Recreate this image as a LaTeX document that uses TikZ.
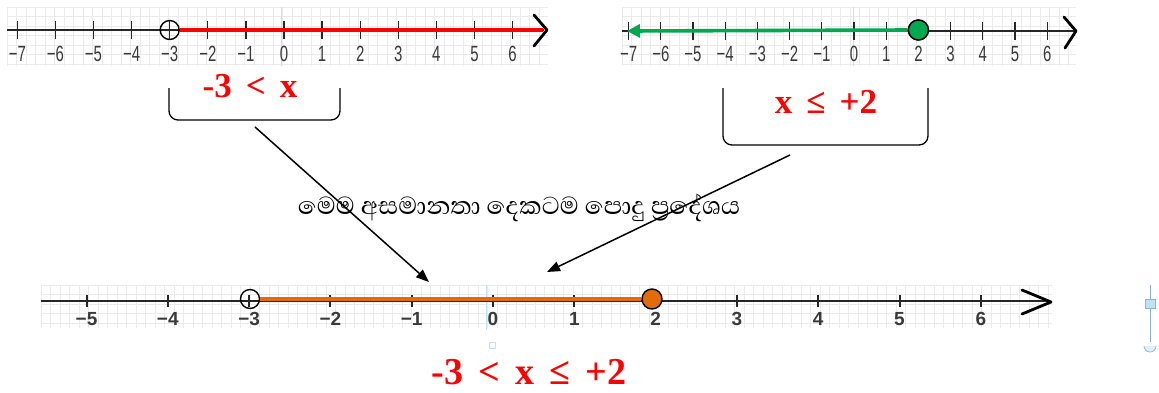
\documentclass[tikz,border=0pt]{standalone}
\usepackage{fontspec}
\setmainfont{Liberation Serif}
\newfontfamily\sinfont[Script=Sinhala]{Abhaya Libre}
\newfontfamily\lsans{Liberation Sans}
\usetikzlibrary{arrows.meta}
\definecolor{myred}{HTML}{FF0000}
\definecolor{mygreen}{HTML}{00A84F}
\definecolor{myorange}{HTML}{E36C0A}
\definecolor{gridc}{HTML}{EBEBEB}
\definecolor{zeroc}{HTML}{BFE3F2}
\definecolor{labc}{HTML}{3A3A3A}
\definecolor{handc}{HTML}{8EAFCF}
\newcommand\gapw{\hspace{0.4em}}
\tikzset{
  axisline/.style={line width=1.3pt, black!85},
  tickmark/.style={line width=1.3pt, black!85},
  btick/.style={line width=2pt, black!85},
  chev/.style={line width=2.8pt, line cap=round, line join=round},
  toplab/.style={font=\lsans\fontsize{22}{22}\selectfont, text=labc, xscale=0.68, inner sep=0pt},
  botlab/.style={font=\lsans\bfseries\fontsize{19}{19}\selectfont, text=labc, inner sep=0pt},
  redtxt/.style={font=\bfseries\fontsize{35}{35}\selectfont, text=myred, inner sep=0pt, anchor=base},
  brack/.style={line width=1.3pt, rounded corners=9pt},
  conn/.style={line width=1.5pt, -{Triangle[length=13pt,width=10pt]}},
  opendot/.style={circle, draw=black, line width=1.4pt, minimum size=19pt, inner sep=0pt},
  fulldot/.style={circle, draw=black, line width=1.4pt, minimum size=20pt, inner sep=0pt},
}
\begin{document}
\begin{tikzpicture}[x=1pt,y=-1pt]
\useasboundingbox (0,0) rectangle (1159,392);

% ---------- grids ----------
\foreach \x in {7,16.5,...,548} \draw[gridc, line width=0.5pt] (\x,7) -- (\x,66);
\foreach \y in {7,16.5,...,66} \draw[gridc, line width=0.5pt] (7,\y) -- (548,\y);
\foreach \x in {622,631.5,...,1076} \draw[gridc, line width=0.5pt] (\x,7) -- (\x,66);
\foreach \y in {7,16.5,...,66} \draw[gridc, line width=0.5pt] (622,\y) -- (1076,\y);
\foreach \x in {41,50.5,...,1052} \draw[gridc, line width=0.5pt] (\x,285) -- (\x,328);
\foreach \y in {285,294.5,...,328} \draw[gridc, line width=0.5pt] (41,\y) -- (1052,\y);
\draw[zeroc, line width=0.8pt] (281,7) -- (281,66);
\draw[zeroc, line width=0.8pt] (853,7) -- (853,66);
\draw[zeroc, line width=1pt] (486,285) -- (486,330);
\draw[zeroc, line width=0.8pt] (489,342) rectangle (495,348);

% ---------- top-left number line ----------
\draw[axisline] (7,30) -- (544,30);
\foreach \i in {-7,...,6} {
  \draw[tickmark] ({284+38.1*\i},21) -- ({284+38.1*\i},39);
  \node[toplab] (tl\i) at ({284+38.1*\i},54) {\ifnum\i<0 −\number-\i\else\i\fi};
}
\node[opendot] (oc1) at (169.7,30) {};
\draw[myred, line width=3.6pt] (oc1.east) -- (543,30);
\draw[chev] (534,15) -- (547,30) -- (534,46);

% ---------- top-right number line ----------
\draw[axisline] (622,31) -- (1074,31);
\foreach \i in {-7,...,6} {
  \draw[tickmark] ({854+32.2*\i},22) -- ({854+32.2*\i},40);
  \node[toplab] (tr\i) at ({854+32.2*\i},54) {\ifnum\i<0 −\number-\i\else\i\fi};
}
\coordinate (gtip) at (627,31);
\node[fulldot, fill=mygreen] (gd) at (918.4,30) {};
\draw[mygreen, line width=3.6pt, -{Triangle[length=13pt,width=13pt]}] (gd.west) -- (gtip);
\node[fulldot, fill=mygreen] at (918.4,30) {};
\draw[chev] (1064,17) -- (1076,31) -- (1065,48);

% ---------- bottom number line ----------
\draw[axisline] (41,301) -- (1050,301);
\foreach \i in {-5,...,6} {
  \draw[btick] ({493+81.3*\i},295) -- ({493+81.3*\i},307);
  \node[botlab] (bl\i) at ({493+81.3*\i},319) {\ifnum\i<0 −\number-\i\else\i\fi};
}
\node[opendot] (oc2) at (250,299) {};
\node[fulldot, fill=myorange] (od) at (652,299) {};
\draw[myorange, line width=3.6pt] (oc2.east) -- (od.west);
\draw[chev] (1022,290) -- (1051,302) -- (1022,314);

% ---------- labels and brackets ----------
\node[redtxt] (t1) at (250,97) {-3\gapw<\gapw x};
\draw[brack] (169,88) -- (169,120) -- (340,120) -- (340,88);
\node[redtxt] (t2) at (826,113) {x\gapw≤\gapw+2};
\draw[brack] (723,88) -- (723,145) -- (928,145) -- (928,88);
\node[redtxt, font=\bfseries\fontsize{38}{38}\selectfont] (t3) at (529,384)
  {-3\gapw<\gapw x\gapw≤\gapw+2};

\node[font=\sinfont\fontsize{31.5}{31.5}\selectfont, inner sep=0pt] (sin) at (519,208)
  {මෙම අසමානතා දෙකටම පොදු ප්^^^^200dරදේශය};

% ---------- connectors ----------
\coordinate (a1s) at (255,127);
\coordinate (a1e) at (429,282);
\coordinate (a2s) at (790,155);
\coordinate (a2e) at (547,272);
\draw[conn] (a1s) -- (a1e);
\draw[conn] (a2s) -- (a2e);

% ---------- selection handle artefact ----------
\draw[handc, line width=0.9pt] (1150,285) -- (1150,342);
\draw[handc, fill=zeroc, line width=0.7pt] (1145,299) rectangle (1155,308);
\draw[handc, fill=zeroc!50, line width=0.7pt] (1144,346) arc[start angle=180, end angle=0, radius=6];
\end{tikzpicture}
\end{document}
